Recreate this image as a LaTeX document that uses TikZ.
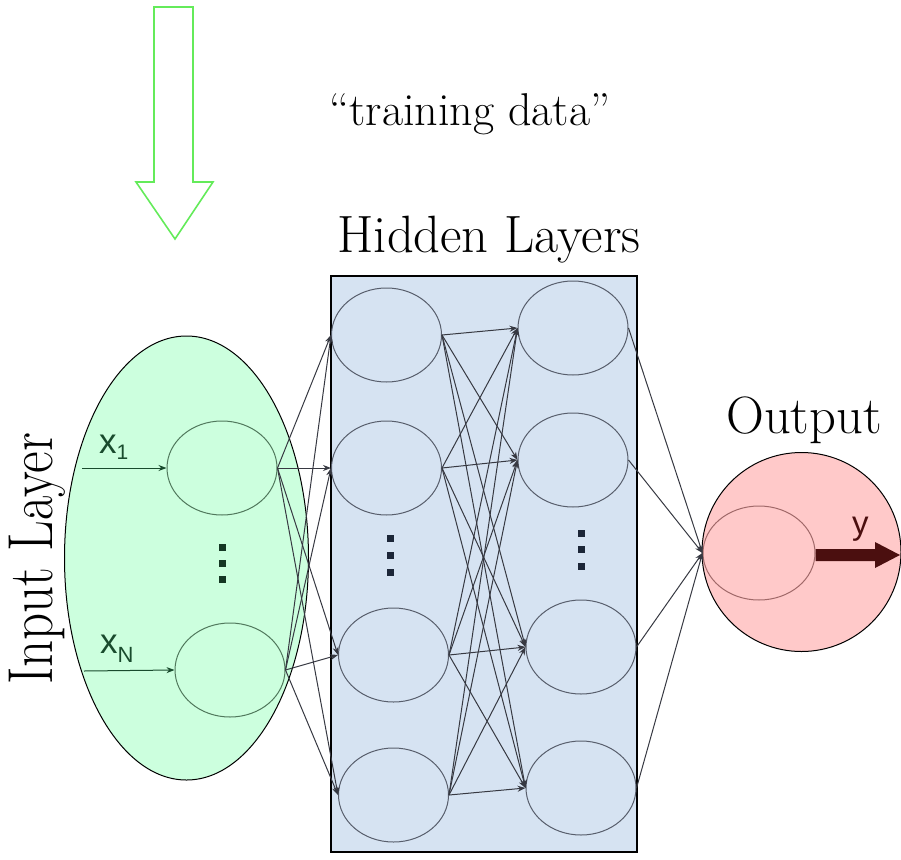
\documentclass[tikz,border=0pt]{standalone}
\usepackage{fontspec}
\newfontfamily\sansf{Liberation Sans}
\usetikzlibrary{shapes.geometric,arrows.meta,calc}
\definecolor{inputfill}{RGB}{204,255,222}
\definecolor{hiddenfill}{RGB}{214,227,242}
\definecolor{outfill}{RGB}{255,201,201}
\definecolor{inneuron}{RGB}{80,120,92}
\definecolor{hidneuron}{RGB}{88,94,108}
\definecolor{outneuron}{RGB}{160,105,105}
\definecolor{edgecol}{RGB}{55,57,66}
\definecolor{arrowgreen}{RGB}{100,235,90}
\definecolor{labelgreen}{RGB}{25,75,45}
\definecolor{dotgreen}{RGB}{20,55,35}
\definecolor{dotblue}{RGB}{28,38,56}
\definecolor{ymaroon}{RGB}{75,15,15}
\begin{document}
\begin{tikzpicture}[x=1pt,y=-1pt,
  neuron/.style={ellipse, draw=#1, line width=1pt, inner sep=0pt,
    minimum width=110pt, minimum height=94pt},
  edge/.style={draw=edgecol, line width=1pt, -{Stealth[length=8pt,width=6pt]}},
  title/.style={font=\fontsize{52.5}{56}\selectfont, inner sep=0pt},
  dotsq/.style={fill=#1, minimum size=7pt, inner sep=0pt},
  sublab/.style={font=\sansf\fontsize{35}{35}\selectfont, text=labelgreen, inner sep=0pt, anchor=base west}]
\useasboundingbox (0,0) rectangle (901,859);

% layer backgrounds
\node[ellipse, draw=black, line width=1pt, fill=inputfill, inner sep=0pt,
  minimum width=244pt, minimum height=444pt] (inlayer) at (186.5,558) {};
\node[draw=black, line width=1.2pt, fill=hiddenfill, inner sep=0pt,
  minimum width=306pt, minimum height=576pt] (hidbox) at (484,564) {};
\node[circle, draw=black, line width=1pt, fill=outfill, inner sep=0pt,
  minimum size=199pt] (outlayer) at (801.5,552) {};

% neurons
\node[neuron=inneuron] (in1) at (222,468) {};
\node[neuron=inneuron] (inN) at (230,670) {};
\node[neuron=hidneuron] (a1) at (386.5,335) {};
\node[neuron=hidneuron] (a2) at (386.5,468) {};
\node[neuron=hidneuron] (a3) at (393.5,655) {};
\node[neuron=hidneuron] (a4) at (393.5,795) {};
\node[neuron=hidneuron] (b1) at (573,328) {};
\node[neuron=hidneuron] (b2) at (573,460) {};
\node[neuron=hidneuron] (b3) at (581,647) {};
\node[neuron=hidneuron] (b4) at (581,788) {};
\node[neuron=outneuron, minimum width=112pt] (out) at (759,553) {};

% dots
\foreach \yy [count=\i] in {547,563,579} \node[dotsq=dotgreen] (din\i) at (222,\yy) {};
\foreach \yy [count=\i] in {538,555,572} \node[dotsq=dotblue] (da\i) at (390,\yy) {};
\foreach \yy [count=\i] in {533,549,566} \node[dotsq=dotblue] (db\i) at (581,\yy) {};

% input arrows
\coordinate (x1start) at (82,468);
\coordinate (xNstart) at (84,671);
\draw[edge, draw=labelgreen] (x1start) -- (in1.west);
\draw[edge, draw=labelgreen] (xNstart) -- (inN.west);

% input -> hidden 1
\foreach \s in {in1,inN}
  \foreach \t in {a1,a2,a3,a4}
    \draw[edge] (\s.east) -- (\t.west);
% hidden 1 -> hidden 2
\foreach \s in {a1,a2,a3,a4}
  \foreach \t in {b1,b2,b3,b4}
    \draw[edge] (\s.east) -- (\t.west);
% hidden 2 -> output
\foreach \s in {b1,b2,b3,b4}
  \draw[edge] (\s.east) -- (out.west);

% output arrow y
\coordinate (ytip) at (900,555);
\fill[ymaroon] ($(out.east|-ytip)+(0,-6)$) -- (875,549) -- (875,542) -- (ytip) -- (875,568) -- (875,561) -- ($(out.east|-ytip)+(0,6)$) -- cycle;

% green training data arrow
\draw[arrowgreen, line width=1.6pt, line join=miter]
  (154,7) -- (193,7) -- (193,182) -- (213,182) -- (175,239) -- (136,182) -- (154,182) -- cycle;

% labels
\node[sublab] (lx1) at (99,453) {x\raisebox{-6pt}{\fontsize{21}{21}\selectfont 1}};
\node[sublab] (lxN) at (100,653) {x\raisebox{-9pt}{\fontsize{22}{22}\selectfont N}};
\node[font=\sansf\fontsize{33}{33}\selectfont, text=ymaroon, inner sep=0pt, anchor=base west] (ly) at (852,534) {y};
\node[font=\fontsize{46}{50}\selectfont, inner sep=0pt, anchor=base] (tdata) at (470,125) {``training data''};
\node[title, anchor=base] (thid) at (489,252) {Hidden Layers};
\node[title, anchor=base] (tout) at (804,433) {Output};
\node[title, anchor=base, rotate=90, font=\fontsize{53}{56}\selectfont] (tin) at (52,559) {\scalebox{1}[1.2]{Input Layer}};
\end{tikzpicture}
\end{document}
